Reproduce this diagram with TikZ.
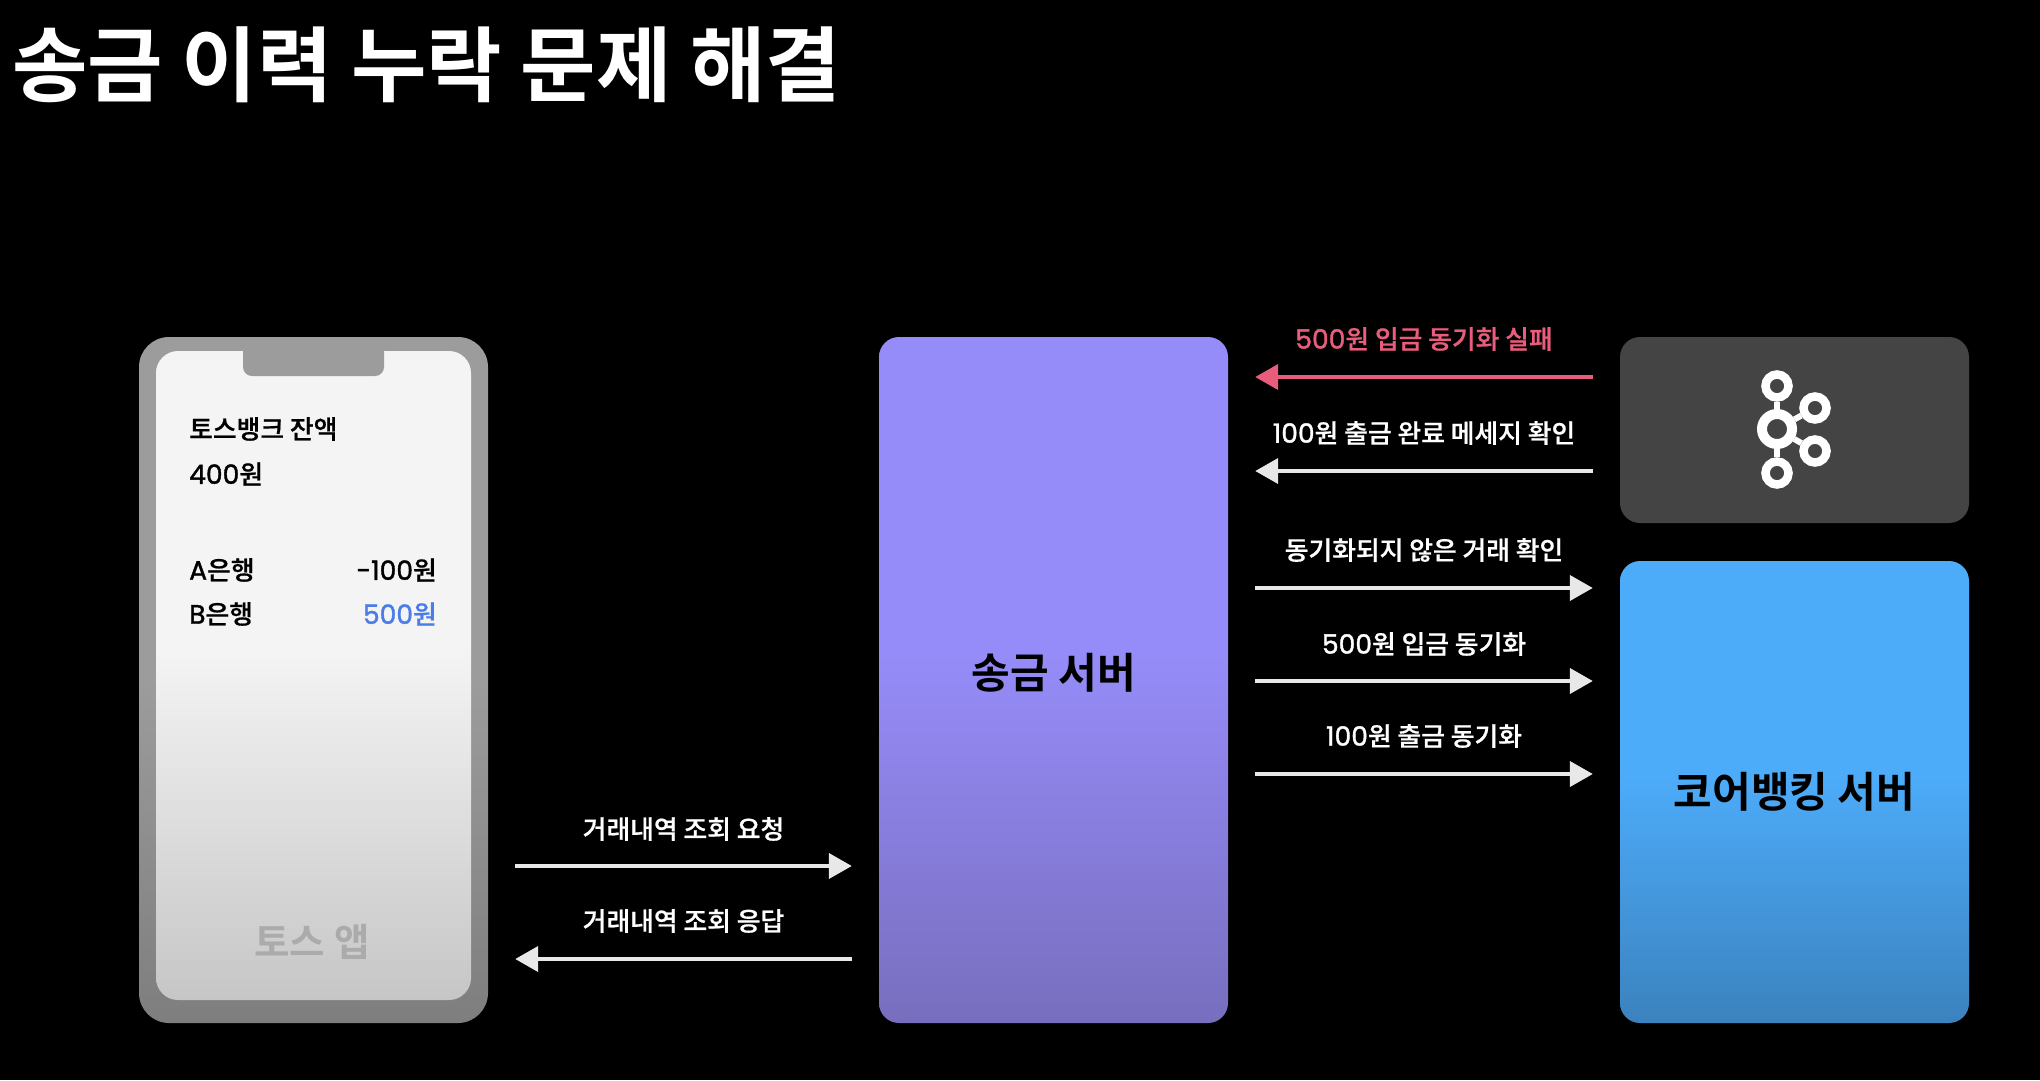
\documentclass[tikz,border=0pt]{standalone}
\usepackage{fontspec}
\usetikzlibrary{arrows.meta}
\newfontfamily\krf{Noto Sans CJK KR}[BoldFont={Noto Sans CJK KR Bold}]
\newfontfamily\krm{Noto Sans CJK KR Medium}[FakeBold=0.7]
\newfontfamily\ltn{Poppins}[FakeBold=1.4]
\newcommand{\nm}[1]{{\ltn\fontsize{26.6}{30}\selectfont #1}}
\definecolor{redtone}{HTML}{E85D7C}
\definecolor{bluetone}{HTML}{4A7DE8}
\definecolor{wirewhite}{HTML}{E8E8E8}
\definecolor{kafkagrey}{HTML}{444444}
\definecolor{phoneTop}{HTML}{9C9C9C}
\definecolor{phoneBot}{HTML}{7E7E7E}
\definecolor{screenTop}{HTML}{F4F4F4}
\definecolor{screenBot}{HTML}{C6C6C6}
\definecolor{servTop}{HTML}{968CF9}
\definecolor{servBot}{HTML}{786EBE}
\definecolor{coreTop}{HTML}{4DACFA}
\definecolor{coreBot}{HTML}{3B82BE}
\pgfdeclareverticalshading{phoneshade}{100bp}{color(0bp)=(phoneBot);color(25bp)=(phoneBot);color(50bp)=(phoneTop);color(100bp)=(phoneTop)}
\pgfdeclareverticalshading{screenshade}{100bp}{color(0bp)=(screenBot);color(25bp)=(screenBot);color(52bp)=(screenTop);color(100bp)=(screenTop)}
\pgfdeclareverticalshading{servshade}{100bp}{color(0bp)=(servBot);color(25bp)=(servBot);color(52bp)=(servTop);color(100bp)=(servTop)}
\pgfdeclareverticalshading{coreshade}{100bp}{color(0bp)=(coreBot);color(25bp)=(coreBot);color(52bp)=(coreTop);color(100bp)=(coreTop)}
\tikzset{
  panel/.style={inner sep=0pt,rounded corners=20pt,minimum width=349pt},
  wire/.style={line width=4pt,wirewhite,-{Triangle[length=23pt,width=25pt]},shorten >=27pt,shorten <=27pt},
  wirered/.style={wire,redtone},
  lab/.style={font=\krm\fontsize{25.8}{30}\selectfont,white,inner sep=0pt},
  phonetext/.style={font=\krm\fontsize{25.8}{30}\selectfont,black,inner sep=0pt},
  boxtitle/.style={font=\krf\bfseries\fontsize{42}{50}\selectfont,black,inner sep=0pt},
  ringsmall/.style={circle,draw=white,line width=8.5pt,minimum size=23pt,inner sep=0pt},
  ringbig/.style={circle,draw=white,line width=10pt,minimum size=30pt,inner sep=0pt},
  ringlink/.style={draw=white,line width=6pt}
}
\begin{document}
\begin{tikzpicture}[x=1pt,y=-1pt]
\useasboundingbox (0,0) rectangle (2040,1080);
\fill[black] (0,0) rectangle (2040,1080);
% title
\node[font=\krf\bfseries\fontsize{82}{90}\selectfont,white,anchor=west,inner sep=0pt] (title) at (12,65) {송금 이력 누락 문제 해결};
% phone
\node[panel,rounded corners=30pt,minimum height=686pt,shading=phoneshade] (phone) at (313.5,680) {};
\node[panel,rounded corners=22pt,minimum width=315pt,minimum height=649pt,shading=screenshade] (screen) at (313.5,675.5) {};
\fill[phoneTop,rounded corners=9pt] (243,340) -- (243,376) -- (384,376) -- (384,340) -- cycle;
\node[phonetext,anchor=west] (bal) at (189,429) {토스뱅크 잔액};
\node[phonetext,anchor=west] (amt) at (189,474) {\nm{400}원};
\node[phonetext,anchor=west] (bankA) at (189,570) {\nm{A}은행};
\node[phonetext,anchor=west] (bankB) at (189,614) {\nm{B}은행};
\node[phonetext,anchor=east] (valA) at (437,570) {\nm{-100}원};
\node[phonetext,anchor=east,text=bluetone] (valB) at (437,614) {\nm{500}원};
\node[font=\krf\bfseries\fontsize{38.5}{44}\selectfont,text=black!33,inner sep=0pt] (app) at (312,942) {토스 앱};
% server
\node[panel,minimum height=686pt,shading=servshade] (server) at (1053.5,680) {};
\node[boxtitle] (servername) at (1054,673) {송금 서버};
% kafka
\node[panel,minimum height=186pt,fill=kafkagrey] (kafka) at (1794.5,430) {};
\node[ringbig] (hub) at (1777,429) {};
\node[ringsmall] (k1) at (1777,386) {};
\node[ringsmall] (k2) at (1777,473) {};
\node[ringsmall] (k3) at (1815,408) {};
\node[ringsmall] (k4) at (1815,451) {};
\draw[ringlink] (hub) -- (k1);
\draw[ringlink] (hub) -- (k2);
\draw[ringlink] (hub) -- (k3);
\draw[ringlink] (hub) -- (k4);
% core
\node[panel,minimum height=462pt,shading=coreshade,boxtitle] (core) at (1794.5,792) {코어뱅킹 서버};
% right arrows
\draw[wirered] (kafka.west |- 0,377) -- node[midway,yshift=38pt,lab,text=redtone] (l1) {\nm{500}원 입금 동기화 실패} (server.east |- 0,377);
\draw[wire] (kafka.west |- 0,471) -- node[midway,yshift=38pt,lab] (l2) {\nm{100}원 출금 완료 메세지 확인} (server.east |- 0,471);
\draw[wire] (server.east |- 0,588) -- node[midway,yshift=38pt,lab] (l3) {동기화되지 않은 거래 확인} (core.west |- 0,588);
\draw[wire] (server.east |- 0,681) -- node[midway,yshift=37pt,lab] (l4) {\nm{500}원 입금 동기화} (core.west |- 0,681);
\draw[wire] (server.east |- 0,774) -- node[midway,yshift=38pt,lab] (l5) {\nm{100}원 출금 동기화} (core.west |- 0,774);
% left arrows
\draw[wire] (phone.east |- 0,866) -- node[midway,yshift=37pt,lab] (l6) {거래내역 조회 요청} (server.west |- 0,866);
\draw[wire] (server.west |- 0,959) -- node[midway,yshift=38pt,lab] (l7) {거래내역 조회 응답} (phone.east |- 0,959);
\end{tikzpicture}
\end{document}
